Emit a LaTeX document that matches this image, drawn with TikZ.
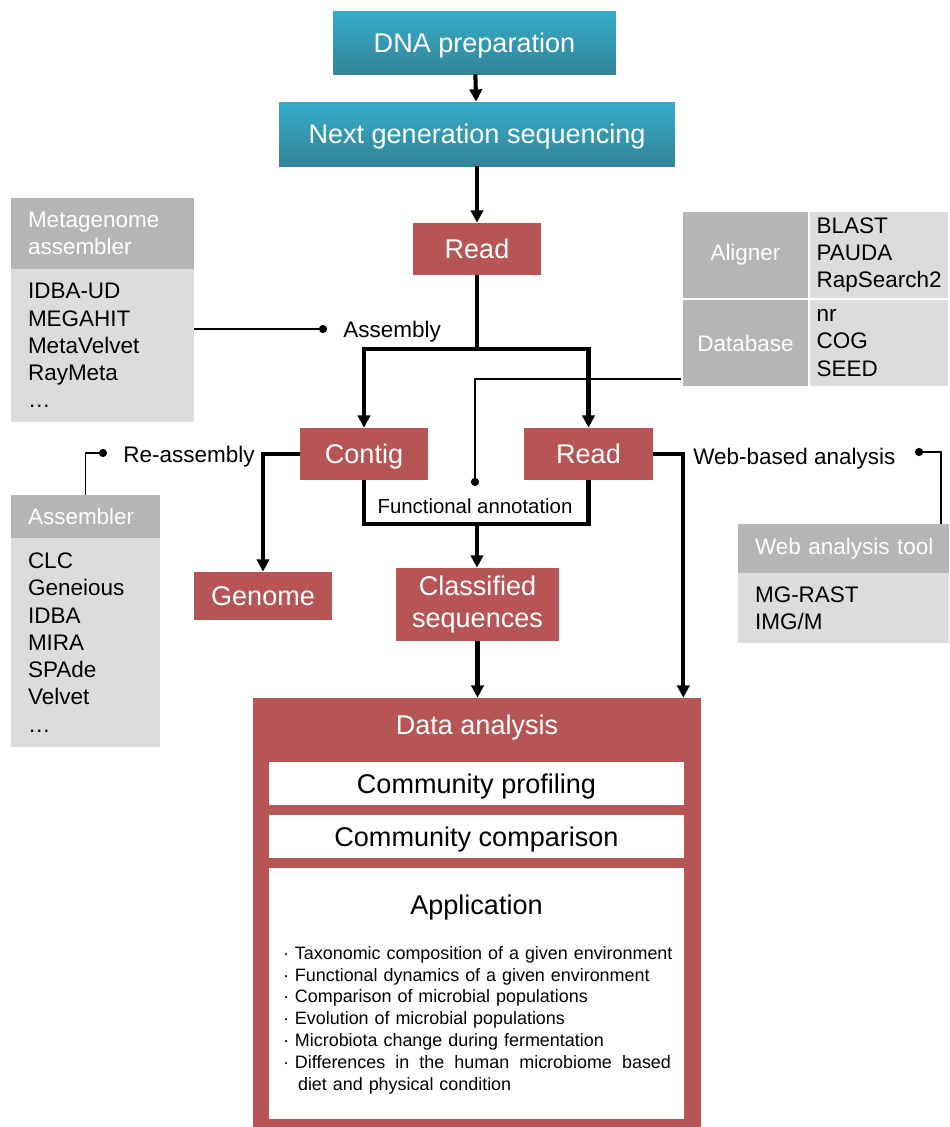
\documentclass[tikz,border=0pt]{standalone}
\usepackage{fontspec}
\setmainfont{Liberation Sans}
\usetikzlibrary{arrows.meta,calc,positioning}

\definecolor{boxred}{RGB}{183,84,86}
\definecolor{tealtop}{RGB}{53,172,202}
\definecolor{tealbot}{RGB}{52,132,152}
\definecolor{headgray}{RGB}{180,181,183}
\definecolor{bodygray}{RGB}{220,220,220}

\newcommand{\boxfont}{\fontsize{15.4}{18}\selectfont}
\newcommand{\labfont}{\fontsize{12.8}{15.5}\selectfont}
\newcommand{\annfont}{\fontsize{11.6}{14}\selectfont}
\newcommand{\listfont}{\fontsize{10.2}{12.4}\selectfont}

\tikzset{
  redbox/.style={fill=boxred, text=white, font=\boxfont, inner sep=0pt, align=center},
  tealbox/.style={top color=tealtop, bottom color=tealbot, text=white, font=\boxfont, inner sep=0pt},
  oneline/.style={text height=11pt, text depth=0pt},
  grayhead/.style={fill=headgray, text=white, font=\labfont, align=left, inner xsep=0.34cm, inner ysep=0pt},
  graybody/.style={fill=bodygray, font=\labfont, align=left, inner xsep=0.34cm, inner ysep=0pt},
  whitebox/.style={fill=white, font=\boxfont, inner sep=0pt},
  tabcell/.style={draw=white, line width=0.6pt, minimum height=1.76cm},
  lab/.style={font=\labfont, inner sep=0pt},
  trunk/.style={line width=2.3pt},
  flow/.style={line width=2.3pt, -{Triangle[width=7pt,length=7pt]}},
  link/.style={line width=1.1pt, -{Circle[length=4.6pt]}},
}

\begin{document}
\begin{tikzpicture}[x=0.02cm,y=-0.02cm]
\useasboundingbox (0,0) rectangle (950,1127);

% main line
\node[tealbox, oneline, minimum width=5.66cm, minimum height=1.26cm] (dna) at (474.5,42.5) {DNA preparation};
\node[tealbox, oneline, minimum width=7.92cm, minimum height=1.28cm] (ngs) at (477,134) {Next generation sequencing};
\node[redbox, oneline, minimum width=2.56cm, minimum height=1.04cm] (read) at (477,249) {Read};
\node[redbox, oneline, minimum width=2.56cm, minimum height=1.04cm] (contig) at (364,454) {Contig};
\node[redbox, oneline, minimum width=2.58cm, minimum height=1.04cm] (readb) at (588.5,454) {Read};
\node[redbox, oneline, minimum width=2.76cm, minimum height=0.96cm] (genome) at (263,596) {Genome};
\node[redbox, minimum width=3.26cm, minimum height=1.46cm] (classified) at (477.5,604.5) {Classified\\sequences};

% data analysis block
\node[redbox, minimum width=8.96cm, minimum height=8.58cm] (dana) at (477,912.5) {};
\node[text=white, font=\boxfont, oneline, inner sep=0pt] (danatitle) at (477,725) {Data analysis};
\node[whitebox, oneline, minimum width=8.3cm, minimum height=0.86cm] (profiling) at (476.5,783.5) {Community profiling};
\node[whitebox, oneline, minimum width=8.3cm, minimum height=0.86cm] (comparison) at (476.5,836.5) {Community comparison};
\node[whitebox, minimum width=8.3cm, minimum height=5.02cm] (application) at (476.5,993.5) {};
\node[font=\boxfont, oneline, inner sep=0pt] (apptitle) at (476.5,905) {Application};
\node[font=\listfont, text width=8cm, align=left, inner sep=0pt] (applist) at (483,1020)
  {· Taxonomic composition of a given environment\\
   · Functional dynamics of a given environment\\
   · Comparison of microbial populations\\
   · Evolution of microbial populations\\
   · Microbiota change during fermentation\\
   \makebox[7.76cm][l]{·\ Differences\hfill in\hfill the\hfill human\hfill microbiome\hfill based}\\
   \hspace*{0.3cm}diet and physical condition};

% tool lists
\node[grayhead, minimum width=3.66cm, minimum height=1.42cm, text width=2.98cm] (mghead) at (102.5,233.5) {Metagenome\\assembler};
\node[graybody, minimum width=3.66cm, minimum height=3.06cm, text width=2.98cm] (mgbody) at (102.5,345.5) {IDBA-UD\\MEGAHIT\\MetaVelvet\\RayMeta\\…};
\node[grayhead, minimum width=2.98cm, minimum height=0.86cm, text width=2.3cm] (asmhead) at (85.5,516.5) {Assembler};
\node[graybody, minimum width=2.98cm, minimum height=4.18cm, text width=2.3cm] (asmbody) at (85.5,642.5) {CLC\\Geneious\\IDBA\\MIRA\\SPAde\\Velvet\\…};
\node[grayhead, minimum width=4.22cm, minimum height=0.98cm, text width=3.54cm] (webhead) at (843.5,548.5) {\mbox{Web analysis tool}};
\node[graybody, minimum width=4.22cm, minimum height=1.4cm, text width=3.54cm] (webbody) at (843.5,608) {MG-RAST\\IMG/M};

% aligner / database table
\node[tabcell, fill=headgray, text=white, font=\labfont, minimum width=2.54cm, inner sep=0pt] (alname) at (745.5,255) {Aligner};
\node[tabcell, graybody, inner xsep=0.15cm, text width=2.5cm] (allist) at (879,255) {BLAST\\PAUDA\\RapSearch2};
\node[tabcell, fill=headgray, text=white, font=\labfont, minimum width=2.54cm, inner sep=0pt] (dbname) at (745.5,343) {Database};
\node[tabcell, graybody, inner xsep=0.15cm, text width=2.5cm] (dblist) at (879,343) {nr\\COG\\SEED};

% step labels
\coordinate (asmdot) at (327,329);
\coordinate (redot) at (107,453);
\coordinate (fadot) at (475,486);
\coordinate (fajoin) at (475,379);
\coordinate (webdot) at (915,452);
\node[lab, anchor=base west] (asmlabel) at (343,337) {Assembly};
\node[lab, anchor=base west] (relabel) at (123,462) {Re-assembly};
\node[lab, anchor=base west] (weblabel) at (693,464) {Web-based analysis};
\node[font=\annfont, inner sep=0pt, anchor=base] (falabel) at (475,513) {Functional annotation};

% connectors
\coordinate (split) at (477,349);
\coordinate (fabot) at (477,524);
\draw[flow] (dna) -- (ngs);
\draw[flow] (ngs) -- (read);
\draw[trunk] (read.south) -- (split);
\draw[flow] (split) -| (contig.north);
\draw[flow] (split) -| (readb.north);
\draw[flow] (contig.west) -| (genome.north);
\draw[trunk] (contig.south) |- (fabot) -| (readb.south);
\draw[flow] (fabot) -- (fabot |- classified.north);
\draw[flow] (classified.south) -- (classified.south |- dana.north);
\draw[flow] (readb.east) -| ($(dana.north east)+(-18,0)$);

\draw[link] (mgbody.east |- asmdot) -- (asmdot);
\draw[link] (asmhead.north) |- (redot);
\draw[link] (dbname.west |- fajoin) -- (fajoin) -- (fadot);
\draw[link] ($(webhead.north east)+(-8,0)$) |- (webdot);
\end{tikzpicture}
\end{document}
